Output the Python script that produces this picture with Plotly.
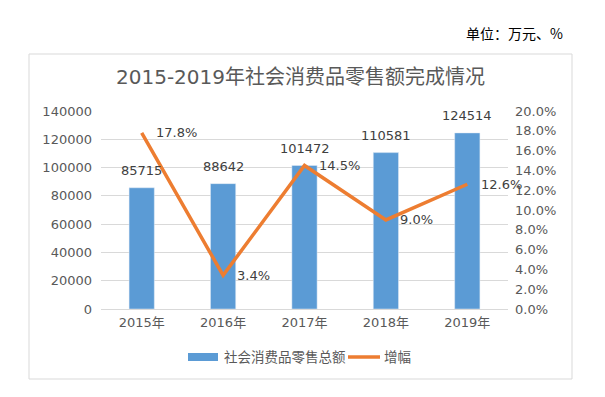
import plotly.graph_objects as go

categories = ["2015年", "2016年", "2017年", "2018年", "2019年"]
sales = [85715, 88642, 101472, 110581, 124514]
growth = [0.178, 0.034, 0.145, 0.090, 0.126]
bar_name = "社会消费品零售总额"
line_name = "增幅"
title_text = "2015-2019年社会消费品零售额完成情况"
unit_text = "单位：万元、%"

W, H = 605, 397
L, R, T, B = 101, 508, 111, 309  # plot area in pixels


def px(x):
    return (x - L) / (R - L)


def py(y):
    return (B - y) / (B - T)


FONT = "DejaVu Sans, Noto Sans CJK SC, sans-serif"
BAR_C = "#5B9BD5"
LINE_C = "#ED7D31"
GRID_C = "#D9D9D9"
TICK_C = "#595959"
LABEL_C = "#404040"

fig = go.Figure()
fig.add_trace(go.Bar(x=categories, y=sales, name=bar_name, marker_color=BAR_C,
                     width=0.31, showlegend=False))
fig.add_trace(go.Scatter(x=categories, y=growth, name=line_name, mode="lines",
                         line=dict(color=LINE_C, width=3.5), yaxis="y2",
                         showlegend=False))

ann = []
for c, v in zip(categories, sales):
    ann.append(dict(x=c, y=v, xref="x", yref="y", text=str(v), showarrow=False,
                    yanchor="middle", yshift=17,
                    font=dict(family=FONT, size=13, color=LABEL_C)))
for c, g in zip(categories, growth):
    ann.append(dict(x=c, y=g, xref="x", yref="y2", text=f"{g*100:.1f}%", showarrow=False,
                    xanchor="left", yanchor="middle", xshift=12,
                    font=dict(family=FONT, size=13, color=LABEL_C)))

# title
ann.append(dict(x=px(300.5), y=py(77), xref="paper", yref="paper", text=title_text,
                showarrow=False, xanchor="center", yanchor="middle",
                font=dict(family=FONT, size=20, color=TICK_C)))
# unit
ann.append(dict(x=px(565), y=py(33), xref="paper", yref="paper", text=unit_text,
                showarrow=False, xanchor="right", yanchor="middle",
                font=dict(family="Noto Sans CJK SC", size=14, color="#000000")))
# legend texts
ann.append(dict(x=px(222), y=py(357), xref="paper", yref="paper", text=bar_name,
                showarrow=False, xanchor="left", yanchor="middle",
                font=dict(family=FONT, size=13.5, color=TICK_C)))
ann.append(dict(x=px(382), y=py(357), xref="paper", yref="paper", text=line_name,
                showarrow=False, xanchor="left", yanchor="middle",
                font=dict(family=FONT, size=13.5, color=TICK_C)))

shapes = [
    dict(type="rect", xref="paper", yref="paper", x0=px(29), x1=px(572), y0=py(379), y1=py(54),
         line=dict(color=GRID_C, width=1), fillcolor="rgba(0,0,0,0)", layer="below"),
    dict(type="rect", xref="paper", yref="paper", x0=px(188), x1=px(218), y0=py(361), y1=py(353),
         line=dict(width=0), fillcolor=BAR_C),
    dict(type="line", xref="paper", yref="paper", x0=px(348), x1=px(380), y0=py(357), y1=py(357),
         line=dict(color=LINE_C, width=3.5)),
]

fig.update_layout(
    width=W, height=H, autosize=False,
    margin=dict(l=L, r=W - R, t=T, b=H - B, pad=0, autoexpand=False),
    paper_bgcolor="white", plot_bgcolor="white",
    font=dict(family=FONT, size=13, color=TICK_C),
    showlegend=False,
    annotations=ann, shapes=shapes,
    xaxis=dict(type="category", range=[-0.5, len(categories) - 0.5], showgrid=False,
               showline=False, ticks="", automargin=False,
               tickfont=dict(size=13, color=TICK_C), ticklabelstandoff=4),
    yaxis=dict(range=[0, 140000], dtick=20000, tickformat="d", showgrid=True,
               gridcolor=GRID_C, gridwidth=1, automargin=False,
               zeroline=True, zerolinecolor=GRID_C, zerolinewidth=1, ticks="",
               tickfont=dict(size=13, color=TICK_C), ticklabelstandoff=8),
    yaxis2=dict(range=[0, 0.2], dtick=0.02, tickformat=".1%", overlaying="y", side="right",
                showgrid=False, zeroline=False, ticks="", automargin=False,
                tickfont=dict(size=13, color=TICK_C), ticklabelstandoff=6),
)

fig.write_html("out.html", config={"displayModeBar": False},
               post_script="document.body.style.margin='0';")
